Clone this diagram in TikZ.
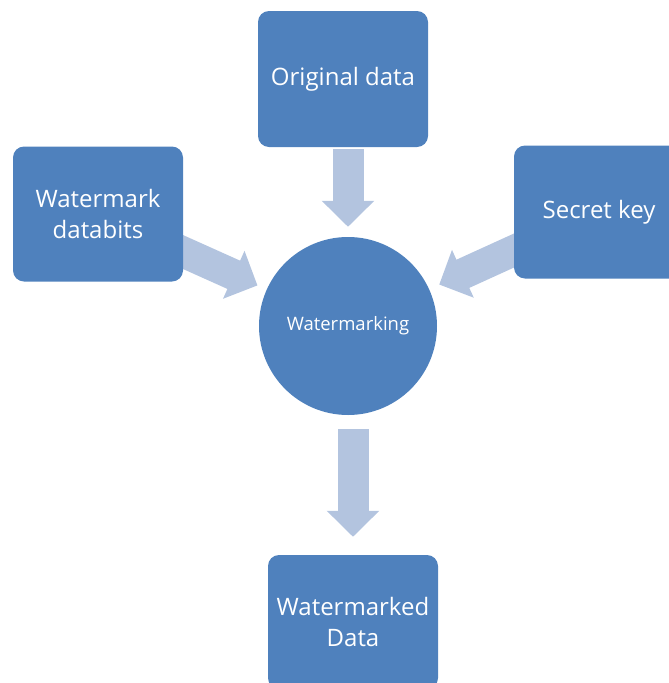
\documentclass[tikz,border=0pt]{standalone}
\usepackage{fontspec}
\setmainfont{Open Sans}
\usetikzlibrary{arrows.meta,backgrounds}
\definecolor{boxblue}{HTML}{4F81BD}
\definecolor{arrowblue}{HTML}{B3C4DF}
\tikzset{blk/.style={rectangle, rounded corners=11pt, fill=boxblue, text=white, minimum width=170pt, align=center, font=\fontsize{24}{31}\selectfont},
  fatarrow/.style={draw=arrowblue, line width=31pt, -{Triangle[width=51pt,length=26pt]}}}

\begin{document}
\begin{tikzpicture}[x=1pt,y=-1pt]
   \clip (0,0) rectangle (669,683);
   \node[circle, fill=boxblue, text=white, minimum size=178pt, font=\fontsize{18.5}{22}\selectfont] (mark) at (348,326) {Watermarking};
   \node[blk, minimum height=136pt] (orig) at (343,79) {Original data};
   \node[blk, minimum height=135pt] (bits) at (98,214) {Watermark\\databits};
   \node[blk, minimum height=133pt] (key) at (599,212) {Secret key};
   \node[blk, minimum height=134pt] (out) at (353,622) {Watermarked\\Data};
   \begin{pgfonlayer}{background}
    \draw[fatarrow, shorten <=2pt, shorten >=10pt] (orig.south -| mark.north) -- (mark.north);
    \draw[fatarrow, shorten <=-20pt, shorten >=10pt] (bits) -- (mark);
    \draw[fatarrow, shorten <=-20pt, shorten >=11pt] (key) -- (mark);
    \draw[fatarrow, shorten <=14pt, shorten >=18pt] (mark.south -| out.north) -- (out.north);
   \end{pgfonlayer}
  \end{tikzpicture}
\end{document}
